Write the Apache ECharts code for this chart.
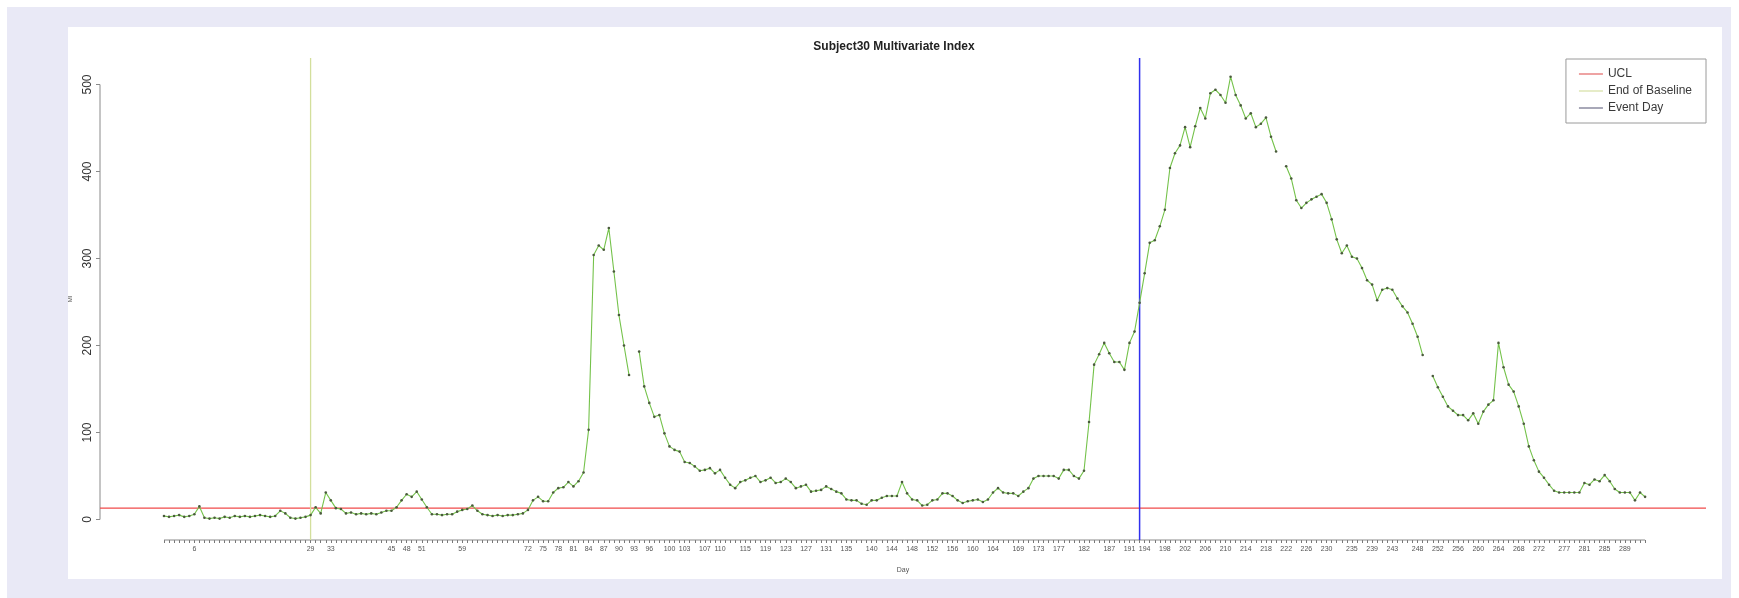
<!DOCTYPE html>
<html><head><meta charset="utf-8">
<script src="https://cdn.jsdelivr.net/npm/echarts@6/dist/echarts.min.js"></script>
<style>html,body{margin:0;padding:0;background:#fff}#c{width:1739px;height:598px}</style>
</head><body><div id="c"></div>
<script>
// Multivariate index per day (null = missing day)
const values = [
  4, 3, 4, 5, 3, 4, 6, 15, 2, 1,
  2, 1, 3, 2, 4, 3, 4, 3, 4, 5,
  4, 3, 4, 10, 7, 2, 1, 2, 3, 5,
  14, 7, 31, 22, 13, 12, 7, 8, 6, 7,
  6, 7, 6, 8, 10, 10, 14, 22, 29, 26,
  32, 23, 14, 6, 6, 5, 6, 6, 9, 11,
  12, 16, 10, 6, 5, 4, 5, 4, 5, 5,
  6, 7, 11, 22, 26, 21, 21, 31, 36, 37,
  43, 38, 44, 54, 103, 304, 315, 310, 335, 285,
  235, 200, 166, null, 193, 153, 134, 118, 120, 99,
  84, 80, 78, 66, 65, 61, 56, 57, 59, 53,
  57, 48, 40, 36, 43, 45, 48, 50, 43, 45,
  48, 42, 43, 47, 43, 36, 38, 40, 32, 33,
  34, 38, 35, 32, 30, 23, 22, 22, 18, 17,
  22, 22, 25, 27, 27, 27, 43, 30, 23, 22,
  16, 17, 22, 23, 30, 30, 27, 22, 19, 21,
  22, 23, 20, 23, 31, 36, 31, 30, 30, 27,
  32, 36, 47, 50, 50, 50, 50, 47, 57, 57,
  50, 47, 56, 112, 178, 190, 203, 191, 181, 181,
  172, 203, 216, 249, 283, 318, 321, 337, 356, 404,
  421, 430, 451, 428, 452, 473, 461, 490, 494, 488,
  479, 509, 488, 476, 461, 467, 451, 455, 462, 440,
  423, null, 406, 392, 367, 358, 364, 368, 371, 374,
  364, 345, 322, 306, 315, 302, 300, 289, 275, 270,
  252, 264, 266, 264, 254, 245, 238, 225, 210, 189,
  null, 165, 152, 141, 130, 125, 120, 120, 114, 122,
  110, 124, 132, 137, 203, 175, 155, 147, 130, 110,
  84, 68, 55, 48, 40, 33, 31, 31, 31, 31,
  31, 42, 40, 46, 44, 51, 44, 35, 31, 31,
  31, 22, 31, 26
];
// Day categories (one per observation)
const days = values.map((v, i) => i);
// Day labels that are printed under the axis
const labelDays = [6, 29, 33, 45, 48, 51, 59, 72, 75, 78, 81, 84, 87, 90, 93, 96, 100, 103, 107, 110,
  115, 119, 123, 127, 131, 135, 140, 144, 148, 152, 156, 160, 164, 169, 173, 177, 182, 187, 191, 194,
  198, 202, 206, 210, 214, 218, 222, 226, 230, 235, 239, 243, 248, 252, 256, 260, 264, 268, 272, 277,
  281, 285, 289];
const yTicks = [0, 100, 200, 300, 400, 500];
const uclValue = [13];
const baselineDay = [29];
const eventDay = [193];
const legendNames = ['UCL', 'End of Baseline', 'Event Day'];
const titleText = 'Subject30 Multivariate Index';

const xMin = -12.66, xMax = 305.05, yMin = -23.6, yMax = 530.5;
const FONT = '"Liberation Sans", Arial, sans-serif';

const chart = echarts.init(document.getElementById('c'), null, {renderer: 'canvas'});
chart.setOption({
  animation: false,
  backgroundColor: '#ffffff',
  graphic: [
    {type: 'rect', z: -10, silent: true, shape: {x: 7, y: 7, width: 1724, height: 591}, style: {fill: '#e9e9f6'}},
    {type: 'rect', z: -9, silent: true, shape: {x: 68, y: 27, width: 1654, height: 552}, style: {fill: '#ffffff'}},
    {type: 'text', x: 894, y: 47, silent: true, style: {text: titleText, align: 'center', verticalAlign: 'middle',
      font: 'bold 12px ' + FONT, fill: '#222'}}
  ],
  grid: {left: 100, right: 33, top: 58, bottom: 58, containLabel: false},
  legend: {
    orient: 'vertical', right: 33, top: 59,
    padding: [9, 14, 9, 13], itemGap: 5, itemWidth: 24, itemHeight: 2,
    borderColor: '#9a9a9a', borderWidth: 1, borderRadius: 0,
    icon: 'rect',
    textStyle: {fontSize: 12, color: '#3a3a3a', fontFamily: FONT},
    data: [
      {name: legendNames[0], itemStyle: {color: '#eea3a3'}},
      {name: legendNames[1], itemStyle: {color: '#e6ecc8'}},
      {name: legendNames[2], itemStyle: {color: '#a8a8b8'}}
    ],
    selectedMode: false
  },
  xAxis: {
    type: 'value', min: xMin, max: xMax,
    name: 'Day', nameLocation: 'middle', nameGap: 27,
    nameTextStyle: {fontSize: 7, color: '#555', fontFamily: FONT},
    axisLine: {show: false, onZero: false},
    axisTick: {show: true, customValues: days, length: 3, lineStyle: {color: '#777', width: 1}},
    axisLabel: {show: true, customValues: labelDays, fontSize: 7, color: '#555', margin: 6, fontFamily: FONT},
    splitLine: {show: false}
  },
  yAxis: {
    type: 'value', min: yMin, max: yMax,
    name: 'MI', nameLocation: 'middle', nameGap: 27,
    nameTextStyle: {fontSize: 6, color: '#555', fontFamily: FONT},
    axisLine: {show: false, onZero: false},
    axisTick: {show: true, customValues: yTicks, length: 4, lineStyle: {color: '#8a8a8a'}},
    axisLabel: {show: true, customValues: yTicks, rotate: 90, fontSize: 12, color: '#333', margin: 6, fontFamily: FONT},
    splitLine: {show: false}
  },
  series: [
    {
      name: 'Index', type: 'line', z: 4,
      data: days.map((d, i) => [d, values[i] === null ? '-' : values[i]]),
      connectNulls: false,
      symbol: 'circle', symbolSize: 2.6, showSymbol: true,
      itemStyle: {color: '#4a5a3c'},
      lineStyle: {color: '#74c24a', width: 1.1}
    },
    {
      name: legendNames[0], type: 'line', z: 3, symbol: 'none',
      data: [[xMin, uclValue[0]], [xMax, uclValue[0]]],
      itemStyle: {color: '#f04a4a'},
      lineStyle: {color: '#f04a4a', width: 1.3}
    },
    {
      name: legendNames[1], type: 'line', z: 3, symbol: 'none',
      data: [[baselineDay[0], yMin], [baselineDay[0], yMax]],
      itemStyle: {color: '#d3df9c'},
      lineStyle: {color: '#d3df9c', width: 1.3}
    },
    {
      name: legendNames[2], type: 'line', z: 3, symbol: 'none',
      data: [[eventDay[0], yMin], [eventDay[0], yMax]],
      itemStyle: {color: '#3030ee'},
      lineStyle: {color: '#3030ee', width: 1.5}
    },
    {
      name: 'xAxisLine', type: 'line', z: 2, symbol: 'none', clip: false, silent: true,
      data: [[days[0], yMin], [days[days.length - 1], yMin]],
      lineStyle: {color: '#8a8a8a', width: 1}
    },
    {
      name: 'yAxisLine', type: 'line', z: 2, symbol: 'none', clip: false, silent: true,
      data: [[xMin, yTicks[0]], [xMin, yTicks[yTicks.length - 1]]],
      lineStyle: {color: '#8a8a8a', width: 1}
    }
  ]
});
</script>
</body></html>
